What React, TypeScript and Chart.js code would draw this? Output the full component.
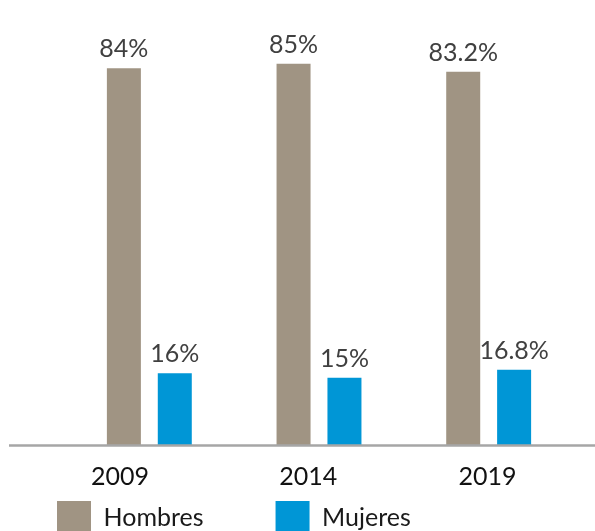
import React, { useEffect, useRef } from "react";
import { Chart, registerables } from "chart.js";

Chart.register(...registerables);

const YEARS = ["2009", "2014", "2019"];
const HOMBRES = [84, 85, 83.2];
const MUJERES = [16, 15, 16.8];
const SERIES_NAMES = ["Hombres", "Mujeres"];

const FONT = "Lato, 'Open Sans', sans-serif";

export default function App() {
  const ref = useRef<HTMLCanvasElement | null>(null);

  useEffect(() => {
    if (!ref.current) return;

    const baseline = {
      id: "baseline",
      afterDatasetsDraw(chart: any) {
        const { ctx } = chart;
        const y = chart.scales.y.getPixelForValue(0) + 0.5;
        ctx.save();
        ctx.strokeStyle = "#A6A6A6";
        ctx.lineWidth = 2.5;
        ctx.beginPath();
        ctx.moveTo(9, y);
        ctx.lineTo(chart.width, y);
        ctx.stroke();
        ctx.restore();
      },
    };

    const valueLabels = {
      id: "valueLabels",
      afterDatasetsDraw(chart: any) {
        const { ctx } = chart;
        ctx.save();
        ctx.font = `25px ${FONT}`;
        ctx.fillStyle = "#404040";
        ctx.textAlign = "center";
        ctx.textBaseline = "alphabetic";
        chart.data.datasets.forEach((ds: any, di: number) => {
          const meta = chart.getDatasetMeta(di);
          meta.data.forEach((bar: any, i: number) => {
            ctx.fillText(`${ds.data[i]}%`, bar.x, bar.y - 11);
          });
        });
        ctx.restore();
      },
    };

    const labelAt = [0.109, 0.479, 0.831];

    const chart = new Chart(ref.current, {
      type: "bar",
      data: {
        labels: YEARS,
        datasets: [
          {
            label: SERIES_NAMES[0],
            data: HOMBRES,
            backgroundColor: "#A09483",
            categoryPercentage: 0.6,
            barPercentage: 0.668,
            clip: false,
          },
          {
            label: SERIES_NAMES[1],
            data: MUJERES,
            backgroundColor: "#0096D6",
            categoryPercentage: 0.6,
            barPercentage: 0.668,
            clip: false,
          },
        ],
      },
      options: {
        responsive: false,
        animation: false,
        layout: { padding: { left: -15, right: 21.5, top: 0, bottom: 0 } },
        plugins: {
          tooltip: { enabled: false },
          legend: {
            position: "bottom",
            align: "start",
            labels: {
              boxWidth: 34,
              boxHeight: 34,
              padding: 72,
              color: "#1a1a1a",
              font: { family: FONT, size: 25 },
            },
          },
        },
        scales: {
          x: { type: "category", display: false },
          xl: {
            type: "linear",
            axis: "x",
            position: { y: 0 },
            offset: false,
            min: 0,
            max: 1,
            grid: { display: false, offset: false },
            border: { display: false },
            afterBuildTicks: (s: any) => {
              s.ticks = labelAt.map((v) => ({ value: v }));
            },
            ticks: {
              autoSkip: false,
              maxRotation: 0,
              padding: 9,
              color: "#111111",
              font: { family: FONT, size: 25 },
              callback: (_v: any, i: number) => YEARS[i],
            },
          },
          y: {
            type: "linear",
            min: 3.57,
            max: 99.2,
            grid: { display: false },
            border: { display: false },
            ticks: { display: false },
            afterFit: (s: any) => {
              s.width = 79.5;
            },
          },
        },
      },
      plugins: [baseline, valueLabels],
    });

    return () => chart.destroy();
  }, []);

  return (
    <div
      style={{
        position: "fixed",
        left: 0,
        top: 0,
        width: 595,
        height: 531,
        overflow: "hidden",
        background: "#ffffff",
      }}
    >
      <canvas ref={ref} width={595} height={545} style={{ display: "block" }} />
    </div>
  );
}
